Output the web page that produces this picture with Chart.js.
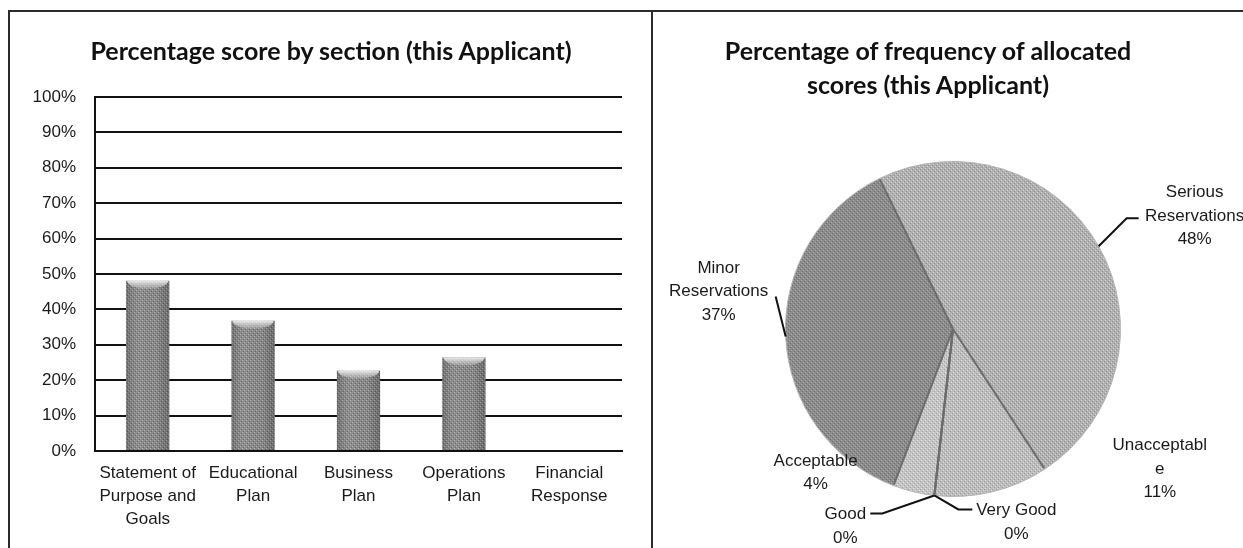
<!DOCTYPE html>
<html>
<head>
<meta charset="utf-8">
<script src="https://cdn.jsdelivr.net/npm/chart.js@4.4.1/dist/chart.umd.min.js"></script>
<style>
    html, body { margin: 0; padding: 0; background: #fff; overflow: hidden; }
    body { width: 1243px; height: 548px; position: relative; }
    #frame { position: absolute; left: 8px; top: 10px; width: 1400px; height: 700px; border: 2px solid #2b2b2b; box-sizing: border-box; }
    #divider { position: absolute; left: 651px; top: 10px; width: 2px; height: 600px; background: #2b2b2b; }
    #barBox { position: absolute; left: 10px; top: 12px; width: 640px; height: 536px; }
    #pieBox { position: absolute; left: 653px; top: 12px; width: 590px; height: 536px; }
    .panel-title { position: absolute; text-align: center; font: bold 25px Lato, sans-serif;
                   line-height: 34px; color: #111; white-space: nowrap; }
    #barTitle { left: 81px; top: 33px; width: 500px; }
    #pieTitle { left: 678px; top: 33px; width: 500px; }
</style>
</head>
<body>
<div id="frame"></div>
<div id="divider"></div>
<div id="barBox"><canvas id="sectionChart" width="640" height="536"></canvas></div>
<div id="pieBox"><canvas id="frequencyChart" width="590" height="536"></canvas></div>
<div class="panel-title" id="barTitle">Percentage score by section (this Applicant)</div>
<div class="panel-title" id="pieTitle">Percentage of frequency of allocated<br>scores (this Applicant)</div>

<script>
// Section scores (bar chart)
const sections = [
    ['Statement of', 'Purpose and', 'Goals'],
    ['Educational', 'Plan'],
    ['Business', 'Plan'],
    ['Operations', 'Plan'],
    ['Financial', 'Response']
];
const sectionScores = [48.1, 36.8, 22.7, 26.4, 0];
const scoreTicks = ['0%', '10%', '20%', '30%', '40%', '50%', '60%', '70%', '80%', '90%', '100%'];

// Frequency of allocated scores (pie chart), clockwise from the top-left
const scoreLevels = ['Serious Reservations', 'Unacceptable', 'Very Good', 'Good', 'Acceptable', 'Minor Reservations'];
const levelShares = [48, 11, 0, 0, 4, 37];
const levelLabelLines = [
    ['Serious', 'Reservations'],
    ['Unacceptabl', 'e'],
    ['Very Good'],
    ['Good'],
    ['Acceptable'],
    ['Minor', 'Reservations']
];

const labelFont = { family: 'Liberation Sans, Arial, sans-serif', size: 17 };

// small stippled fill, like the printed texture
function stipple(base, light, dark) {
    const c = document.createElement('canvas');
    c.width = 4; c.height = 4;
    const g = c.getContext('2d');
    g.fillStyle = base; g.fillRect(0, 0, 4, 4);
    g.fillStyle = light; g.fillRect(0, 0, 1, 1); g.fillRect(2, 2, 1, 1);
    g.fillStyle = dark; g.fillRect(1, 3, 1, 1); g.fillRect(3, 1, 1, 1);
    return g.createPattern(c, 'repeat');
}

// lighter rounded top on each bar plus side shading
const barCaps = {
    id: 'barCaps',
    afterDatasetsDraw(chart) {
        const ctx = chart.ctx;
        chart.getDatasetMeta(0).data.forEach(bar => {
            const { x, y, width, base } = bar.getProps(['x', 'y', 'width', 'base'], true);
            if (base - y < 2) return;
            const left = x - width / 2;
            ctx.save();
            const side = ctx.createLinearGradient(left, 0, left + width, 0);
            side.addColorStop(0, 'rgba(0,0,0,0.2)');
            side.addColorStop(0.35, 'rgba(255,255,255,0.04)');
            side.addColorStop(0.7, 'rgba(0,0,0,0)');
            side.addColorStop(1, 'rgba(0,0,0,0.22)');
            ctx.fillStyle = side;
            ctx.fillRect(left, y, width, base - y);
            const cap = ctx.createLinearGradient(0, y, 0, y + 9);
            cap.addColorStop(0, 'rgba(240,240,240,0.95)');
            cap.addColorStop(1, 'rgba(200,200,200,0.2)');
            ctx.fillStyle = cap;
            ctx.beginPath();
            ctx.moveTo(left + 1, y);
            ctx.lineTo(left + width - 1, y);
            ctx.ellipse(x, y, width / 2 - 1, 8, 0, 0, Math.PI);
            ctx.closePath();
            ctx.fill();
            ctx.restore();
        });
    }
};

new Chart(document.getElementById('sectionChart'), {
    type: 'bar',
    data: {
        labels: sections,
        datasets: [{
            data: sectionScores,
            backgroundColor: stipple('#888888', '#b4b4b4', '#666666'),
            borderWidth: 0,
            categoryPercentage: 1,
            barPercentage: 0.41
        }]
    },
    options: {
        responsive: false,
        animation: false,
        layout: { padding: { left: 10, right: 28, top: 85, bottom: 17 } },
        plugins: {
            legend: { display: false },
            tooltip: { enabled: false }
        },
        scales: {
            x: {
                grid: { display: false, drawTicks: false },
                border: { display: true, color: '#111', width: 2 },
                ticks: {
                    color: '#1a1a1a',
                    font: { ...labelFont, lineHeight: 1.35 },
                    padding: 11,
                    maxRotation: 0,
                    autoSkip: false
                },
                afterFit(scale) { scale.height = 80; }
            },
            y: {
                min: 0,
                max: 100,
                grid: { color: '#111', lineWidth: 2, drawTicks: false },
                border: { display: true, color: '#111', width: 2 },
                ticks: {
                    stepSize: 10,
                    color: '#1a1a1a',
                    font: labelFont,
                    padding: 19,
                    callback: (value, index) => scoreTicks[index]
                },
                afterFit(scale) { scale.width = 75; }
            }
        }
    },
    plugins: [barCaps]
});

// label blocks and leader lines, placed relative to the outer middle of each slice
const labelPlacement = [
    { dx: 96, dy: -30, leader: [[28, -28], [40, -28]] },
    { dx: 168, dy: -23, leader: null },
    { dx: 82, dy: 27, leader: [[24, 14], [38, 14]] },
    { dx: -89, dy: 31, leader: [[-52, 18], [-64, 18]] },
    { dx: -98, dy: -19, leader: null },
    { dx: -67, dy: -45, leader: [[-10, -40]] }
];

// slice edges drawn as radial strokes so the rim stays soft
const sliceEdges = {
    id: 'sliceEdges',
    afterDatasetsDraw(chart) {
        const ctx = chart.ctx;
        ctx.save();
        ctx.strokeStyle = '#6c6c6c';
        ctx.lineWidth = 2;
        chart.getDatasetMeta(0).data.forEach(arc => {
            const { x, y, startAngle, outerRadius } = arc.getProps(['x', 'y', 'startAngle', 'outerRadius'], true);
            ctx.beginPath();
            ctx.moveTo(x, y);
            ctx.lineTo(x + Math.cos(startAngle) * (outerRadius - 1), y + Math.sin(startAngle) * (outerRadius - 1));
            ctx.stroke();
        });
        ctx.restore();
    }
};

const pieLabels = {
    id: 'pieLabels',
    afterDraw(chart) {
        const ctx = chart.ctx;
        const arcs = chart.getDatasetMeta(0).data;
        ctx.save();
        ctx.font = '17px ' + labelFont.family;
        ctx.fillStyle = '#1a1a1a';
        ctx.strokeStyle = '#111';
        ctx.lineWidth = 2;
        ctx.textAlign = 'center';
        ctx.textBaseline = 'middle';
        arcs.forEach((arc, i) => {
            const { x, y, startAngle, endAngle, outerRadius } =
                arc.getProps(['x', 'y', 'startAngle', 'endAngle', 'outerRadius'], true);
            const mid = (startAngle + endAngle) / 2;
            const ex = x + Math.cos(mid) * outerRadius;
            const ey = y + Math.sin(mid) * outerRadius;
            const place = labelPlacement[i];
            if (place.leader) {
                ctx.beginPath();
                ctx.moveTo(ex, ey);
                place.leader.forEach(p => ctx.lineTo(ex + p[0], ey + p[1]));
                ctx.stroke();
            }
            const lines = levelLabelLines[i].concat([levelShares[i] + '%']);
            const lh = 23.5;
            const top = ey + place.dy - (lines.length - 1) * lh / 2;
            lines.forEach((t, k) => ctx.fillText(t, ex + place.dx, top + k * lh));
        });
        ctx.restore();
    }
};

new Chart(document.getElementById('frequencyChart'), {
    type: 'pie',
    data: {
        labels: scoreLevels,
        datasets: [{
            data: levelShares,
            backgroundColor: [
                stipple('#b0b0b0', '#d4d4d4', '#909090'),
                stipple('#bcbcbc', '#dedede', '#9c9c9c'),
                stipple('#c2c2c2', '#e0e0e0', '#a2a2a2'),
                stipple('#c2c2c2', '#e0e0e0', '#a2a2a2'),
                stipple('#c4c4c4', '#e2e2e2', '#a4a4a4'),
                stipple('#8c8c8c', '#aaaaaa', '#6c6c6c')
            ],
            borderColor: '#b4b4b4',
            borderWidth: 1
        }]
    },
    options: {
        responsive: false,
        animation: false,
        rotation: -26,
        layout: { padding: { left: 132, right: 122, top: 149, bottom: 51 } },
        plugins: {
            legend: { display: false },
            tooltip: { enabled: false }
        }
    },
    plugins: [sliceEdges, pieLabels]
});
</script>
</body>
</html>
